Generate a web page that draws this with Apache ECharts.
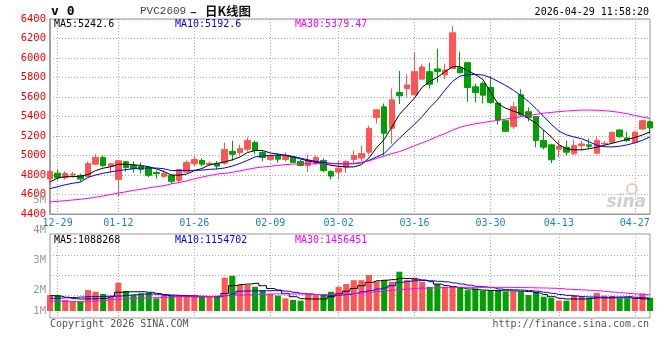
<!DOCTYPE html>
<html><head><meta charset="utf-8">
<script src="https://cdn.jsdelivr.net/npm/echarts@6/dist/echarts.min.js"></script>
<style>html,body{margin:0;padding:0;background:#fff}#c{width:660px;height:360px}</style>
</head><body><div id="c"></div>
<script>
const dates = ['12-26','12-29','12-30','12-31','01-05','01-06','01-07','01-08','01-09','01-12',
'01-13','01-14','01-15','01-16','01-19','01-20','01-21','01-22','01-23','01-26',
'01-27','01-28','01-29','01-30','02-02','02-03','02-04','02-05','02-06','02-09',
'02-10','02-11','02-12','02-13','02-24','02-25','02-26','02-27','03-02','03-03',
'03-04','03-05','03-06','03-09','03-10','03-11','03-12','03-13','03-16','03-17',
'03-18','03-19','03-20','03-23','03-24','03-25','03-26','03-27','03-30','03-31',
'04-01','04-02','04-03','04-07','04-08','04-09','04-10','04-13','04-14','04-15',
'04-16','04-17','04-20','04-21','04-22','04-23','04-24','04-27','04-28','04-29'];
const xTickLabels = ['12-29','01-12','01-26','02-09','03-02','03-16','03-30','04-13','04-27'];

const opens = [4760,4819,4772,4800,4796,4786,4911,4980,4891,4755, 4936,4898,4891,4878,4826,4786,4796,4745,4830,4915,
4949,4905,4918,4922,5041,5031,5064,5133,5031,4959, 5003,4959,4983,4939,4898,4925,4949,4837,4830,4881,
4959,4975,5034,5391,5500,5279,5646,5687,5622,5783, 5860,5888,5827,5891,5901,5952,5704,5738,5697,5538,
5357,5296,5622,5449,5401,5153,5109,5064,5085,5017, 5102,5109,5024,5119,5136,5262,5180,5136,5272,5347];
const closes = [4837,4772,4816,4810,4758,4918,4980,4898,4915,4946, 4878,4864,4857,4796,4813,4816,4735,4857,4929,4959,
4911,4918,4891,5061,5013,5071,5153,5051,4980,4997, 4962,4993,4929,4898,4949,4980,4847,4789,4870,4939,
5000,5020,5279,5469,5228,5571,5612,5724,5860,5908, 5731,5860,5878,6258,5850,5697,5646,5619,5544,5364,
5248,5500,5415,5391,5153,5085,4956,5092,5034,5102, 5119,5095,5153,5126,5238,5194,5153,5238,5357,5283];
const lows = [4700,4745,4752,4772,4732,4779,4905,4881,4819,4580, 4834,4823,4816,4779,4762,4772,4711,4724,4820,4891,
4891,4891,4857,4905,4946,4997,5041,5017,4942,4946, 4925,4939,4922,4890,4830,4905,4830,4755,4755,4819,
4922,4942,5010,5330,5000,5119,5528,5595,5615,5775, 5687,5748,5783,5891,5840,5551,5544,5534,5530,5316,
5240,5272,5400,5350,5085,5061,4922,4983,5000,5010, 5051,5071,5010,5100,5130,5180,5140,5120,5265,5221];
const highs = [4840,4857,4837,4830,4813,4939,5013,5000,4925,4952, 4942,4939,4929,4888,4847,4847,4803,4860,4949,4993,
4973,4942,4942,5133,5153,5112,5187,5153,5051,5010, 5020,5031,4990,4955,5010,5000,4970,4847,4942,4949,
5051,5102,5306,5469,5534,5687,5867,5833,6054,5935, 5952,6095,5942,6327,6064,5962,5738,5758,5816,5550,
5360,5551,5680,5493,5401,5262,5120,5160,5153,5163, 5153,5173,5194,5150,5245,5270,5245,5250,5365,5360];

const ma5 = [4728,4770,4781,4784,4787,4805,4845,4870,4884,4910, 4910,4905,4897,4885,4863,4835,4800,4798,4810,4845,
4866,4905,4918,4935,4955,4985,5030,5051,5051,5026, 5015,5000,4985,4964,4945,4930,4918,4900,4888,4883,
4883,4905,4975,5080,5165,5290,5420,5505,5590,5700, 5760,5800,5860,5910,5912,5870,5830,5780,5650,5530,
5485,5455,5430,5380,5330,5260,5190,5110,5070,5058, 5058,5070,5085,5105,5125,5145,5165,5185,5210,5242.6];
const ma10 = [4660,4680,4700,4715,4728,4775,4800,4818,4832,4845, 4855,4865,4871,4871,4871,4864,4845,4847,4847,4847,
4850,4858,4862,4872,4892,4918,4950,4985,4995,5000, 5003,5005,4990,4973,4955,4940,4928,4920,4915,4915,
4915,4925,4950,4985,5020,5100,5175,5250,5320,5400, 5490,5570,5670,5760,5815,5828,5832,5825,5799,5760,
5718,5670,5615,5555,5480,5400,5320,5250,5212,5190, 5173,5140,5105,5090,5088,5095,5109,5130,5155,5192.6];
const ma30 = [4524,4530,4537,4544,4551,4560,4572,4585,4600,4615, 4628,4642,4655,4668,4680,4690,4710,4722,4740,4760,
4778,4795,4810,4816,4828,4843,4858,4872,4882,4890, 4898,4906,4912,4915,4915,4915,4915,4915,4915,4915,
4918,4930,4945,4970,4995,5020,5040,5070,5100,5130, 5160,5195,5225,5260,5290,5310,5325,5338,5350,5362,
5372,5385,5398,5410,5422,5434,5442,5450,5456,5462, 5466,5466,5464,5460,5452,5442,5428,5412,5395,5379.47];

const volumes = [1450000,1450000,1000000,850000,850000,1900000,1750000,1550000,1300000,2570000,
1820000,1450000,1600000,1640000,1150000,1550000,1400000,1300000,1300000,1450000,
1300000,1300000,1300000,3030000,3200000,2360000,2360000,2200000,1900000,1550000,
1400000,1150000,1000000,940000,1550000,1450000,1450000,1750000,2200000,2450000,
2800000,2800000,3270000,2700000,2800000,2660000,3570000,2800000,3030000,2660000,
2200000,2450000,2200000,2270000,2200000,1900000,2060000,1850000,1900000,1850000,
1750000,1750000,1750000,1450000,1750000,1300000,1200000,940000,940000,1450000,
1360000,1200000,1640000,1400000,1360000,1150000,1150000,1150000,1600000,1200000];
const vma5 = [1390000,1360000,1250000,1120000,1090000,1100000,1120000,1150000,1300000,1700000,
1750000,1750000,1750000,1700000,1600000,1450000,1360000,1330000,1320000,1300000,
1300000,1300000,1300000,1600000,2300000,2400000,2450000,2520000,2300000,2050000,
1900000,1600000,1300000,1120000,1090000,1090000,1090000,1300000,1550000,1800000,
2050000,2300000,2600000,2750000,2800000,2850000,2970000,2950000,2900000,2800000,
2660000,2450000,2300000,2200000,2100000,2000000,1950000,1900000,1870000,1850000,
1830000,1820000,1800000,1760000,1650000,1500000,1300000,1150000,1090000,1090000,
1090000,1150000,1200000,1200000,1200000,1200000,1200000,1150000,1100000,1088268];
const vma10 = [1150000,1170000,1200000,1230000,1270000,1300000,1310000,1330000,1350000,1360000,
1420000,1480000,1530000,1550000,1520000,1480000,1450000,1420000,1400000,1370000,
1340000,1320000,1300000,1400000,1550000,1800000,1820000,1830000,1840000,1850000,
1850000,1800000,1700000,1600000,1550000,1500000,1450000,1400000,1450000,1500000,
1600000,1750000,1850000,2000000,2100000,2300000,2600000,2700000,2750000,2800000,
2750000,2700000,2650000,2550000,2450000,2350000,2250000,2200000,2120000,2000000,
1950000,1920000,1900000,1850000,1800000,1700000,1600000,1500000,1420000,1360000,
1300000,1280000,1260000,1240000,1260000,1280000,1300000,1250000,1200000,1154702];
const vma30 = [910000,900000,880000,860000,850000,880000,920000,980000,1050000,1090000,
1120000,1150000,1180000,1200000,1220000,1250000,1280000,1300000,1300000,1300000,
1300000,1320000,1360000,1400000,1430000,1450000,1480000,1500000,1520000,1550000,
1550000,1550000,1550000,1550000,1520000,1500000,1480000,1470000,1500000,1550000,
1600000,1650000,1720000,1780000,1850000,1900000,1950000,2000000,2050000,2080000,
2100000,2120000,2130000,2140000,2150000,2150000,2150000,2150000,2150000,2150000,
2150000,2140000,2130000,2120000,2100000,2090000,2070000,2040000,1980000,1950000,
1920000,1880000,1840000,1780000,1720000,1660000,1600000,1550000,1500000,1456451];
const volTickLabels = ['1M','2M','3M','4M','5M'];

const RED = '#ff5555', GREEN = '#00a000';
const MONO = '"DejaVu Sans Mono", "Liberation Mono", monospace';
const tickSet = new Set(xTickLabels);
const dotted = {show:true, interval:(i, v) => tickSet.has(v), lineStyle:{color:'#a8a8a8', type:[1,2], width:1}};
const upColor = (i) => closes[i] >= opens[i] ? RED : GREEN;
const mid = {textVerticalAlign:'middle', verticalAlign:'middle'};
const txt = (x, y, text, fill, font, extra) => ({type:'text', x:x, y:y, z:10,
  style:Object.assign({text:text, fill:fill, font:font}, mid, extra || {})});

const chart = echarts.init(document.getElementById('c'), null, {renderer:'canvas'});
chart.setOption({
  animation:false,
  backgroundColor:'#fff',
  grid:[
    {left:50, right:10, top:19, height:195, show:true, borderColor:'#999', borderWidth:1},
    {left:50, right:10, top:234, height:84, show:true, borderColor:'#999', borderWidth:1},
    {left:50, right:10, top:200, height:120},
    {left:50, right:10, top:255, height:40}
  ],
  xAxis:[
    {type:'category', gridIndex:0, data:dates, boundaryGap:false,
     axisLine:{show:true, lineStyle:{color:'#999', width:1}}, axisTick:{show:false},
     axisLabel:{interval:(i, v) => tickSet.has(v), color:'#1a7fd4', fontFamily:MONO, fontSize:10, margin:4},
     splitLine:dotted},
    {type:'category', gridIndex:1, data:dates, boundaryGap:false,
     axisLine:{show:false}, axisTick:{show:false}, axisLabel:{show:false}, splitLine:dotted},
    {type:'value', gridIndex:2, show:false},
    {type:'value', gridIndex:3, show:false}
  ],
  yAxis:[
    {type:'value', gridIndex:0, min:4400, max:6400, interval:200,
     axisLine:{show:true, lineStyle:{color:'#a0a0a0', width:2}}, axisTick:{show:false},
     axisLabel:{color:'#ff0000', fontFamily:MONO, fontSize:10.5, margin:4, formatter:(v) => String(v)},
     splitLine:{show:true, lineStyle:{color:'#a8a8a8', type:[1,2], width:1}}},
    {type:'value', gridIndex:1, min:-636364, max:7000000, show:false, splitLine:{show:false}},
    {type:'value', gridIndex:2, min:1000000, max:5000000, interval:1000000,
     axisLine:{show:false}, axisTick:{show:false}, splitLine:{show:false},
     axisLabel:{color:'#999', fontFamily:MONO, fontSize:10.5, margin:4,
       formatter:(v) => { const t = volTickLabels[Math.round(v/1000000)-1]; return v === 1000000 ? '{lift|' + t + '}' : t; },
       rich:{lift:{padding:[0,0,18,0], color:'#999', fontFamily:MONO, fontSize:10.5}}}},
    {type:'value', gridIndex:3, min:0, max:2, interval:1, axisLine:{show:false}, axisTick:{show:false},
     axisLabel:{show:false}, splitLine:{show:true, lineStyle:{color:'#a8a8a8', type:[1,2], width:1}}}
  ],
  series:[
    {type:'candlestick', xAxisIndex:0, yAxisIndex:0, barWidth:6, clip:true,
     data:dates.map((d, i) => [opens[i], closes[i], lows[i], highs[i]]),
     itemStyle:{color:RED, color0:GREEN, borderColor:RED, borderColor0:GREEN, borderWidth:1}},
    {type:'line', xAxisIndex:0, yAxisIndex:0, data:ma5, symbol:'none', lineStyle:{color:'#000', width:1}, z:3},
    {type:'line', xAxisIndex:0, yAxisIndex:0, data:ma10, symbol:'none', lineStyle:{color:'#0000ff', width:1}, z:3},
    {type:'line', xAxisIndex:0, yAxisIndex:0, data:ma30, symbol:'none', lineStyle:{color:'#ff00ff', width:1}, z:3},
    {type:'bar', xAxisIndex:1, yAxisIndex:1, barWidth:6, clip:true, data:volumes,
     itemStyle:{color:(p) => upColor(p.dataIndex)}},
    {type:'line', xAxisIndex:1, yAxisIndex:1, data:vma5, step:'middle', symbol:'none', lineStyle:{color:'#000', width:1}, z:3},
    {type:'line', xAxisIndex:1, yAxisIndex:1, data:vma10, step:'middle', symbol:'none', lineStyle:{color:'#0000ff', width:1}, z:3},
    {type:'line', xAxisIndex:1, yAxisIndex:1, data:vma30, step:'middle', symbol:'none', lineStyle:{color:'#ff00ff', width:1}, z:3}
  ],
  graphic:[
    txt(51, 12, 'v 0', '#000', 'bold 13px ' + MONO),
    txt(140, 11, 'PVC2609', '#444', '11px "Liberation Mono", ' + MONO),
    txt(190, 11, '–', '#222', 'bold 12px "Noto Sans CJK SC", sans-serif'),
    txt(205, 11, '日K线图', '#111', 'bold 12.5px "Noto Sans CJK SC", sans-serif'),
    txt(649, 12, '2026-04-29 11:58:20', '#000', '10px ' + MONO, {textAlign:'right', align:'right'}),
    txt(54, 24, 'MA5:' + ma5[ma5.length-1], '#000', '10px ' + MONO),
    txt(175, 24, 'MA10:' + ma10[ma10.length-1], '#0000ff', '10px ' + MONO),
    txt(295, 24, 'MA30:' + ma30[ma30.length-1], '#ff00ff', '10px ' + MONO),
    txt(54, 240, 'MA5:' + vma5[vma5.length-1], '#000', '10px ' + MONO),
    txt(175, 240, 'MA10:' + vma10[vma10.length-1], '#0000ff', '10px ' + MONO),
    txt(295, 240, 'MA30:' + vma30[vma30.length-1], '#ff00ff', '10px ' + MONO),
    txt(50, 324, 'Copyright 2026 SINA.COM', '#555', '10px ' + MONO),
    txt(649, 324, 'http://finance.sina.com.cn', '#555', '10px ' + MONO, {textAlign:'right', align:'right'}),
    txt(646, 203, 'sina', '#cfcfcf', 'italic bold 17px "DejaVu Sans", sans-serif', {textAlign:'right', align:'right'}),
    {type:'circle', z:10, shape:{cx:632, cy:189, r:5}, style:{fill:'none', stroke:'#f2c4c4', lineWidth:2}}
  ]
});
</script></body></html>
